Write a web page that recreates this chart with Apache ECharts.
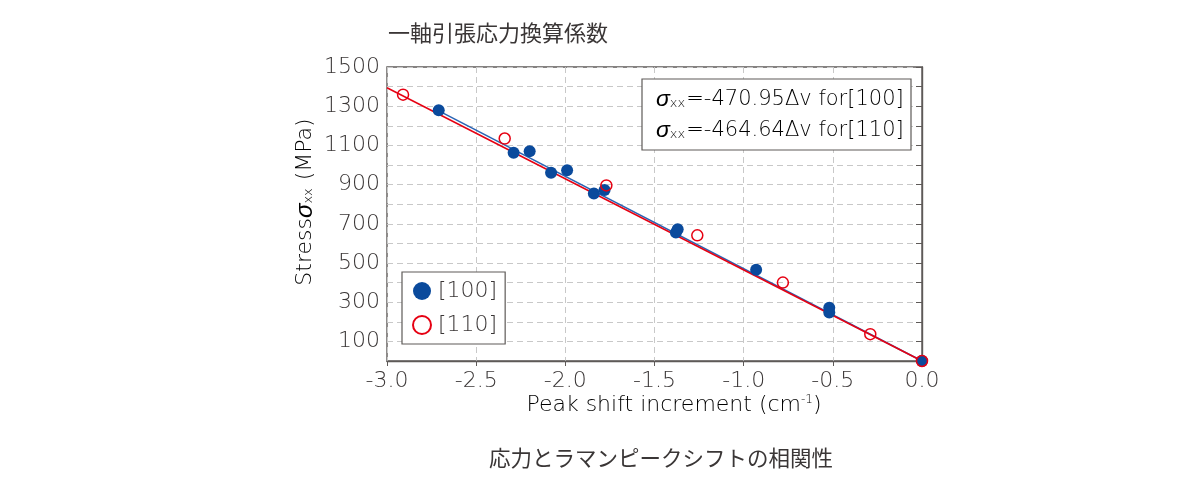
<!DOCTYPE html>
<html>
<head>
<meta charset="utf-8">
<script src="https://cdn.jsdelivr.net/npm/echarts@6/dist/echarts.min.js"></script>
<style>html,body{margin:0;padding:0;background:#fff;}#chart{width:1200px;height:495px;}</style>
</head>
<body>
<div id="chart"></div>
<script>
// ---- data ----
const titleText = '一軸引張応力換算係数';
const captionText = '応力とラマンピークシフトの相関性';
const seriesNames = ['[100]', '[110]'];
const x100 = [-2.71, -2.29, -2.20, -2.08, -1.99, -1.84, -1.78, -1.38, -1.37, -0.93, -0.52, -0.52, 0.0];
const y100 = [1279, 1062, 1070, 960, 973, 855, 872, 655, 672, 465, 272, 248, 0];
const x110 = [-2.91, -2.34, -1.77, -1.26, -0.78, -0.29, 0.0];
const y110 = [1359, 1135, 896, 641, 400, 137, 0];
const fit100X = [-2.72, 0.0];
const fit100Y = [1281, 0];
const fit110X = [-3.0, 0.0];
const fit110Y = [1394, 0];
const fitLabels = ['=-470.95Δv for[100]', '=-464.64Δv for[110]'];
const yTickLabels = [100, 300, 500, 700, 900, 1100, 1300, 1500];

const zip = (a, b) => a.map((v, i) => [v, b[i]]);
const TXT = '#3a3636';
const LAT = '"DejaVu Sans", sans-serif';
const JP = '"Noto Sans CJK JP", sans-serif';
const BLUE = '#0a4a9c';
const RED = '#e60012';
const LW = 200;

const chart = echarts.init(document.getElementById('chart'), null, {renderer: 'canvas'});
const mkRich = (size) => ({
  s: {fontFamily: '"Liberation Sans", sans-serif', fontStyle: 'italic', fontWeight: 'normal', fontSize: size + 2, color: TXT},
  b: {fontFamily: LAT, fontWeight: LW, fontSize: 13, color: TXT, padding: [8, 1, 0, 0]},
  a: {fontFamily: LAT, fontWeight: LW, fontSize: size, color: TXT}
});
chart.setOption({
  animation: false,
  backgroundColor: '#fff',
  grid: {left: 387, right: 278, top: 67, bottom: 134, show: true, borderColor: '#5e5a58', borderWidth: 1.4, backgroundColor: 'transparent'},
  xAxis: {
    type: 'value', min: -3, max: 0, interval: 0.5,
    axisLine: {show: true, lineStyle: {color: '#5e5a58', width: 1.4}},
    axisTick: {show: true, length: 5, lineStyle: {color: '#5e5a58'}},
    axisLabel: {margin: 9, fontSize: 22, fontWeight: LW, color: TXT, fontFamily: LAT, formatter: v => v.toFixed(1)},
    splitLine: {show: true, lineStyle: {color: '#c8c8c8', type: [6, 4], width: 1}}
  },
  yAxis: {
    type: 'value', min: 0, max: 1500, interval: 100,
    axisLine: {show: true, lineStyle: {color: '#5e5a58', width: 1.4}},
    axisTick: {show: true, length: 6, lineStyle: {color: '#5e5a58'}},
    axisLabel: {margin: 7, fontSize: 22, fontWeight: LW, color: TXT, fontFamily: LAT,
      formatter: v => yTickLabels.indexOf(v) >= 0 ? String(v) : ''},
    splitLine: {show: true, lineStyle: {color: '#c8c8c8', type: [6, 4], width: 1}}
  },
  legend: {
    orient: 'vertical', left: 402, top: 272,
    data: [{name: seriesNames[0], icon: 'circle'}, {name: seriesNames[1], icon: 'circle'}],
    backgroundColor: '#fff', borderColor: '#5e5a58', borderWidth: 1.2,
    padding: [8, 8, 8, 10], itemGap: 12, itemWidth: 18, itemHeight: 18,
    textStyle: {fontSize: 22, fontWeight: LW, color: TXT, fontFamily: LAT, padding: [0, 0, 0, 2]}
  },
  series: [
    {name: 'fit100', type: 'line', data: zip(fit100X, fit100Y), symbol: 'none', lineStyle: {color: '#2a64b4', width: 1.5}, z: 2, silent: true},
    {name: 'fit110', type: 'line', data: zip(fit110X, fit110Y), symbol: 'none', lineStyle: {color: RED, width: 1.5}, z: 3, silent: true},
    {name: seriesNames[0], type: 'scatter', data: zip(x100, y100), symbol: 'circle', symbolSize: 12, itemStyle: {color: BLUE, opacity: 1}, z: 4},
    {name: seriesNames[1], type: 'scatter', data: zip(x110, y110), symbol: 'circle', symbolSize: 11, itemStyle: {color: 'rgba(255,255,255,0)', borderColor: RED, borderWidth: 1.5, opacity: 1}, z: 5}
  ],
  graphic: [
    {type: 'text', left: 388, top: 22, style: {text: titleText, font: '22px ' + JP, fill: TXT}},
    {type: 'text', x: 661, y: 458, style: {text: captionText, font: '21.5px ' + JP, fill: TXT, align: 'center', verticalAlign: 'middle'}},
    {type: 'text', x: 674, y: 405, style: {
      text: '{a|Peak shift increment (cm}{u|-1}{a|)}', align: 'center', verticalAlign: 'middle',
      rich: {a: {fontFamily: LAT, fontWeight: LW, fontSize: 22, color: TXT}, u: {fontFamily: LAT, fontWeight: LW, fontSize: 12, color: TXT, padding: [0, 0, 10, 0]}}}},
    {type: 'text', x: 305, y: 202, rotation: Math.PI / 2, style: {
      text: '{a|Stress}{s|σ}{b|xx}{a| (MPa)}', align: 'center', verticalAlign: 'middle', rich: mkRich(22)}},
    {type: 'rect', shape: {x: 642, y: 79, width: 269, height: 71}, style: {fill: '#fff', stroke: '#5e5a58', lineWidth: 1.2}, z: 10},
    {type: 'text', x: 656, y: 100, z: 11, style: {text: '{s|σ}{b|xx}{a|' + fitLabels[0] + '}', verticalAlign: 'middle', rich: mkRich(21)}},
    {type: 'text', x: 656, y: 131, z: 11, style: {text: '{s|σ}{b|xx}{a|' + fitLabels[1] + '}', verticalAlign: 'middle', rich: mkRich(21)}}
  ]
});
</script>
</body>
</html>
